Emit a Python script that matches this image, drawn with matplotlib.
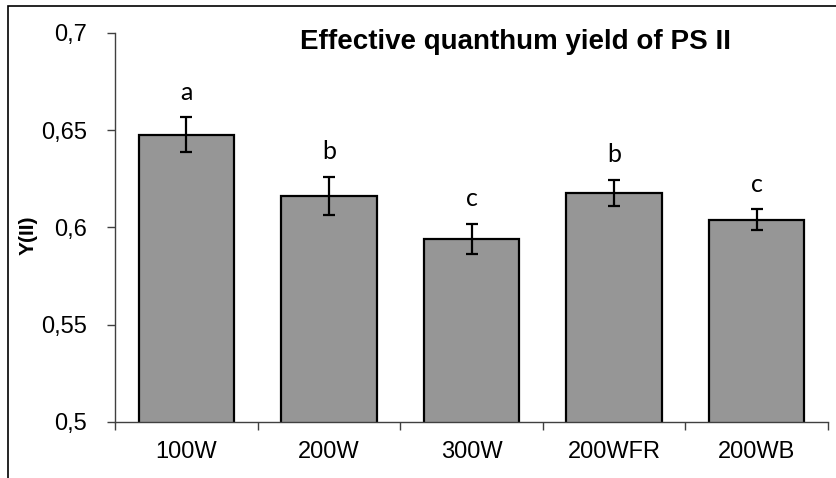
import matplotlib
matplotlib.use('Agg')
import matplotlib.pyplot as plt
from matplotlib.patches import Rectangle

# data
categories = ['100W', '200W', '300W', '200WFR', '200WB']
yield_mean = [0.6476, 0.6162, 0.5941, 0.6176, 0.6039]
yield_err = [0.0090, 0.0099, 0.0076, 0.0067, 0.0054]
letters = ['a', 'b', 'c', 'b', 'c']
y_ticks = [0.5, 0.55, 0.6, 0.65, 0.7]
y_tick_labels = ['0,5', '0,55', '0,6', '0,65', '0,7']

plt.rcParams['font.family'] = ['Liberation Sans', 'DejaVu Sans']

fig = plt.figure(figsize=(8.36, 4.78), dpi=100)
ax = fig.add_axes([0.1376, 0.1172, 0.8528, 0.8138])

x = range(len(categories))
ax.bar(x, yield_mean, width=0.67, color='#969696', edgecolor='black',
       linewidth=1.6, zorder=2)
ax.errorbar(x, yield_mean, yerr=yield_err, fmt='none', ecolor='black',
            elinewidth=1.6, capsize=4.5, capthick=1.6, zorder=3)

for i, (m, e, lab) in enumerate(zip(yield_mean, yield_err, letters)):
    ax.annotate(lab, (i, m + e), xytext=(0, 10), textcoords='offset points',
                ha='center', va='bottom', fontsize=18, family=['Lato', 'DejaVu Sans'])

ax.set_xlim(-0.5, len(categories) - 0.5)
ax.set_ylim(0.5, 0.7)
ax.set_yticks(y_ticks)
ax.set_yticklabels(y_tick_labels, fontsize=17)
ax.set_xticks(list(x))
ax.set_xticklabels(categories, fontsize=17)
ax.set_xticks([i - 0.5 for i in range(len(categories) + 1)], minor=True)
ax.tick_params(axis='x', which='major', length=0, pad=14)
ax.tick_params(axis='x', which='minor', length=6, width=1, color='#404040', direction='out')
ax.tick_params(axis='y', length=6, width=1, color='#404040', pad=14)

for s in ['top', 'right']:
    ax.spines[s].set_visible(False)
for s in ['left', 'bottom']:
    ax.spines[s].set_color('#404040')
    ax.spines[s].set_linewidth(1)

ax.set_ylabel('Y(II)', fontsize=15, fontweight='bold')
ax.yaxis.set_label_coords(-0.108, 0.48)

fig.text(0.617, 0.913, 'Effective quanthum yield of PS II', ha='center', va='center',
         fontsize=20, fontweight='bold')

# outer frame, cropped on right and bottom like the reference
fig.patches.append(Rectangle((8 / 836, -0.2), 1.2, 1.2 - 6 / 478,
                             transform=fig.transFigure, fill=False,
                             edgecolor='black', linewidth=1.2))

fig.savefig('out.png', dpi=100)
